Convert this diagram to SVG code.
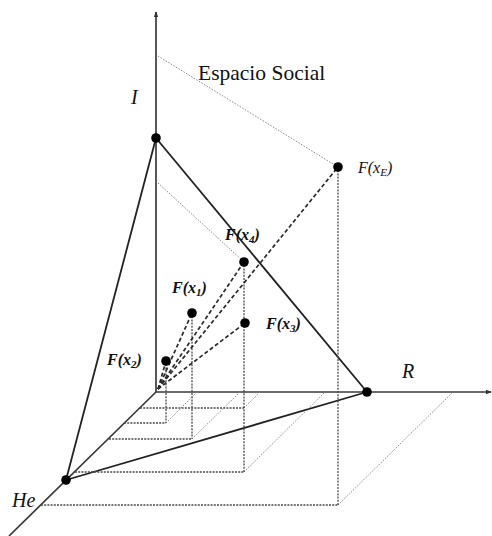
<svg xmlns="http://www.w3.org/2000/svg" width="492" height="536" viewBox="0 0 492 536">
<defs>
<marker id="arr" viewBox="0 0 8 8" refX="7" refY="4" markerWidth="6" markerHeight="6" orient="auto" markerUnits="userSpaceOnUse">
<path d="M0,1 L8,4 L0,7 z" fill="#333"/>
</marker>
<style>
.axis{stroke:#3a3a3a;stroke-width:1.7;fill:none}
.edge{stroke:#222;stroke-width:1.8;fill:none}
.fine{stroke:#888;stroke-width:1;stroke-dasharray:1.5 1.5;fill:none}
.proj{stroke:#4a4a4a;stroke-width:1.3;stroke-dasharray:2 1.2;fill:none}
.vec{stroke:#2a2a2a;stroke-width:1.7;stroke-dasharray:4 2.5;fill:none}
.dot{fill:#000}
.ax{font-family:"Liberation Serif",serif;font-style:italic;font-size:20px;fill:#111}
.lbl{font-family:"Liberation Serif",serif;font-style:italic;font-weight:bold;font-size:16px;fill:#111}
.lblE{font-family:"Liberation Serif",serif;font-style:italic;font-size:16px;fill:#111}
.title{font-family:"Liberation Serif",serif;font-size:21.5px;fill:#111}
</style>
</defs>
<g id="connectors">
<g id="axes">
<line class="axis" x1="156" y1="392" x2="156" y2="12" marker-end="url(#arr)"/>
<line class="axis" x1="156" y1="392" x2="491" y2="392" marker-end="url(#arr)"/>
<line class="axis" x1="156" y1="392" x2="9" y2="536"/>
</g>
<g id="triangle">
<line class="edge" x1="156" y1="138" x2="367" y2="392"/>
<line class="edge" x1="156" y1="138" x2="66" y2="480"/>
<line class="edge" x1="66" y1="480" x2="367" y2="392"/>
</g>
<g id="fine-dotted">
<line class="fine" x1="158" y1="56" x2="338" y2="167"/>
<line class="fine" x1="158" y1="183" x2="244" y2="262"/>
<line class="fine" x1="166" y1="423" x2="197" y2="392"/>
<line class="fine" x1="192" y1="439" x2="240" y2="392"/>
<line class="fine" x1="244" y1="408" x2="260" y2="392"/>
<line class="fine" x1="244" y1="472" x2="325" y2="392"/>
<line class="fine" x1="338" y1="505" x2="453" y2="392"/>
</g>
<g id="projections">
<line class="proj" x1="166" y1="361" x2="166" y2="423"/>
<line class="proj" x1="124" y1="423" x2="166" y2="423"/>
<line class="proj" x1="192" y1="313" x2="192" y2="439"/>
<line class="proj" x1="109" y1="439" x2="192" y2="439"/>
<line class="proj" x1="244" y1="262" x2="244" y2="472"/>
<line class="proj" x1="140" y1="408" x2="244" y2="408"/>
<line class="proj" x1="75" y1="472" x2="244" y2="472"/>
<line class="proj" x1="338" y1="167" x2="338" y2="505"/>
<line class="proj" x1="41" y1="505" x2="338" y2="505"/>
</g>
<g id="vectors">
<line class="vec" x1="158" y1="389" x2="166" y2="361"/>
<line class="vec" x1="158" y1="389" x2="192" y2="313"/>
<line class="vec" x1="158" y1="389" x2="244" y2="262"/>
<line class="vec" x1="158" y1="389" x2="245" y2="323"/>
<line class="vec" x1="158" y1="389" x2="338" y2="167"/>
</g>
</g>
<g id="node-I"><circle class="dot" cx="156" cy="138" r="4.8"/><text class="ax" x="131" y="104">I</text></g>
<g id="node-R"><circle class="dot" cx="367" cy="392" r="4.8"/><text class="ax" x="402" y="378">R</text></g>
<g id="node-He"><circle class="dot" cx="66" cy="480" r="4.8"/><text class="ax" x="12" y="507">He</text></g>
<g id="node-Fx1"><circle class="dot" cx="192" cy="313" r="4.8"/><text class="lbl" x="172" y="293">F(x<tspan font-size="11" dy="3">1</tspan><tspan dy="-3">)</tspan></text></g>
<g id="node-Fx2"><circle class="dot" cx="166" cy="361" r="4.8"/><text class="lbl" x="107" y="365">F(x<tspan font-size="11" dy="3">2</tspan><tspan dy="-3">)</tspan></text></g>
<g id="node-Fx3"><circle class="dot" cx="245" cy="323" r="4.8"/><text class="lbl" x="266" y="329">F(x<tspan font-size="11" dy="3">3</tspan><tspan dy="-3">)</tspan></text></g>
<g id="node-Fx4"><circle class="dot" cx="244" cy="262" r="4.8"/><text class="lbl" x="225" y="240">F(x<tspan font-size="11" dy="3">4</tspan><tspan dy="-3">)</tspan></text></g>
<g id="node-FxE"><circle class="dot" cx="338" cy="167" r="4.8"/><text class="lblE" x="358" y="173">F(x<tspan font-size="11" dy="3">E</tspan><tspan dy="-3">)</tspan></text></g>
<g id="title"><text class="title" x="198" y="80">Espacio Social</text></g>
</svg>
